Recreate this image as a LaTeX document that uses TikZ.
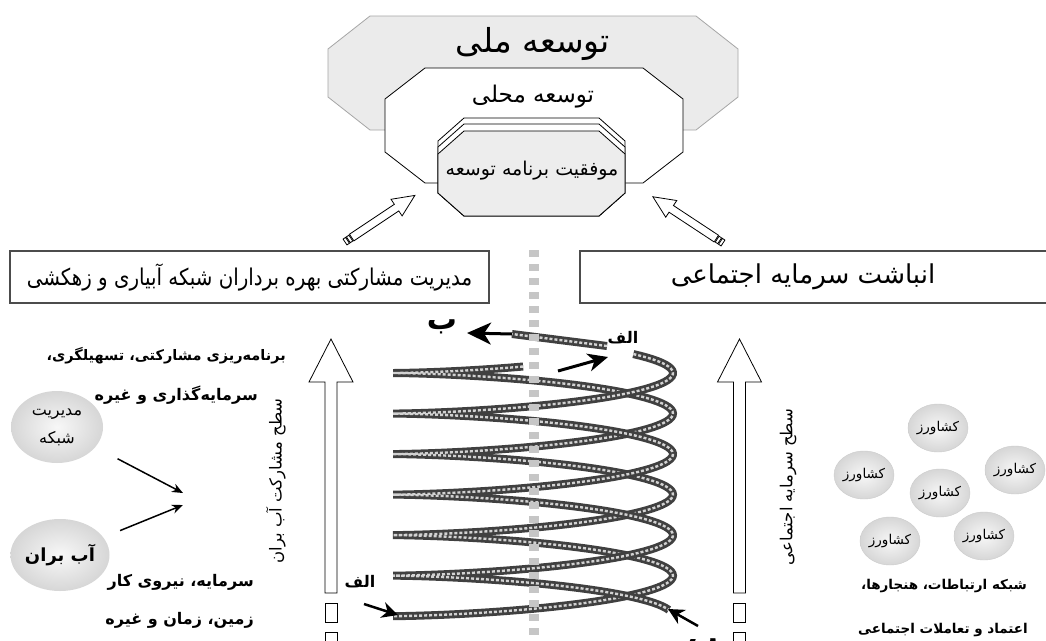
\documentclass[tikz,border=0pt]{standalone}
\usepackage{fontspec}
\newfontfamily\prs[Script=Arabic]{DejaVu Sans}
\TeXXeTstate=1
\usetikzlibrary{shapes.geometric,arrows.meta,backgrounds,positioning}
\newcommand\octbox[7]{\draw[#1] (#2+#6,#3) -- (#4-#6,#3) -- (#4,#3+#7) -- (#4,#5-#7) -- (#4-#6,#5) -- (#2+#6,#5) -- (#2,#5-#7) -- (#2,#3+#7) -- cycle;}
\tikzset{
  octa/.style={line width=0.8pt},
  titlebox/.style={draw=gray!60!black,line width=1.6pt,minimum height=52pt,inner sep=0pt,font=\prs\fontsize{22}{26}\selectfont},
  note/.style={font=\prs\bfseries\fontsize{16}{18}\selectfont,inner sep=0pt},
  farmer/.style={ellipse,draw=gray!40,inner color=gray!6,outer color=gray!32,minimum width=60pt,minimum height=48pt,inner sep=0pt,font=\prs\fontsize{13.5}{15}\selectfont},
  bigball/.style={ellipse,inner color=gray!6,outer color=gray!32,minimum width=92pt,minimum height=72pt,inner sep=0pt,align=center,font=\prs\fontsize{16}{28}\selectfont},
  link/.style={gray!30,line width=4pt},
  chain/.style={line width=8pt,draw=black!75,postaction={draw=gray!35,line width=2.4pt,dash pattern=on 3pt off 2pt}},
  blk/.style={line width=3pt,-{Stealth[length=24pt,width=22pt,inset=7pt]}},
  tip/.style={line width=1.5pt,-{Stealth[length=11pt,width=9pt]}},
  lvl/.style={rotate=90,inner sep=0pt,font=\prs\fontsize{16.5}{18}\selectfont},
  hollow/.style={draw,fill=white,line width=0.8pt}
}
\begin{document}
\begin{tikzpicture}[x=1pt,y=-1pt]
\useasboundingbox (0,0) rectangle (1046,640);
\fill[white] (0,0) rectangle (1046,640);
% development levels
\octbox{octa,fill=gray!16,draw=gray!70}{328}{16}{738}{130}{42}{33}
\octbox{octa,fill=white}{385}{68}{683}{183}{40}{31}
\octbox{octa,fill=white}{438}{118}{625}{216}{26}{23}
\octbox{octa,fill=white}{438}{124}{625}{216}{26}{23}
\octbox{octa,fill=gray!14}{438}{131}{625}{216}{26}{23}
\node[font=\prs\fontsize{33}{36}\selectfont] (natl) at (533,44) {\beginR توسعه ملی\endR};
\node[font=\prs\fontsize{23}{26}\selectfont] (locl) at (533,97) {\beginR توسعه محلی\endR};
\node[font=\prs\fontsize{19}{21}\selectfont] (succ) at (532,171) {\beginR موفقیت برنامه توسعه\endR};
% hollow arrows into the centre
\begin{scope}[shift={(345,242)},rotate=33.7]
  \draw[hollow] (0,-3.5) rectangle (3,3.5);
  \draw[hollow] (4,-3.5) rectangle (7,3.5);
  \draw[hollow] (8,-4) -- (62,-4) -- (62,-10) -- (84,0) -- (62,10) -- (62,4) -- (8,4) -- cycle;
\end{scope}
\begin{scope}[shift={(723,243)},rotate=146.6]
  \draw[hollow] (0,-3.5) rectangle (3,3.5);
  \draw[hollow] (4,-3.5) rectangle (7,3.5);
  \draw[hollow] (8,-4) -- (62,-4) -- (62,-10) -- (84,0) -- (62,10) -- (62,4) -- (8,4) -- cycle;
\end{scope}
% the two headings
\node[titlebox,draw,minimum width=479pt] (pmgt) at (249.5,277) {\scalebox{0.9}[1.05]{\beginR مدیریت مشارکتی بهره برداران شبکه آبیاری و زهکشی\endR}};
\node[titlebox,draw,minimum width=470pt,font=\prs\fontsize{26}{30}\selectfont] (scap) at (815,277) {\hspace*{-24pt}\beginR انباشت سرمایه اجتماعی\endR};
% level arrows
\foreach \ax in {331,739.5}{
  \draw[hollow] (\ax-6,593) -- (\ax-6,382) -- (\ax-22,382) -- (\ax,339) -- (\ax+22,382) -- (\ax+6,382) -- (\ax+6,593) -- cycle;
  \draw[hollow] (\ax-6,603) rectangle (\ax+6,622);
  \draw[hollow] (\ax-6,632) rectangle (\ax+6,652);
}
\node[lvl] (lvlw) at (276,481) {\beginR سطح مشارکت آب بران\endR};
\node[lvl] (lvls) at (788,487) {\beginR سطح سرمایه اجتماعی\endR};
% left side
\node[note,anchor=east,font=\prs\bfseries\fontsize{14.5}{16}\selectfont] (n1) at (286,356) {\beginR برنامه‌ریزی مشارکتی، تسهیلگری،\endR};
\node[note,anchor=east] (n2) at (258,395) {\beginR سرمایه‌گذاری و غیره\endR};
\node[note,anchor=east] (n3) at (254,582) {\beginR سرمایه، نیروی کار\endR};
\node[note,anchor=east] (n4) at (254,620) {\beginR زمین، زمان و غیره\endR};
\node[bigball] (mng) at (57,427) {\beginR مدیریت\endR\\\beginR شبکه\endR};
\node[bigball,font=\prs\bfseries\fontsize{18}{20}\selectfont] (wbr) at (60,555) {\beginR آب بران\endR};
\coordinate (m1) at (183,493);
\coordinate (m2) at (183,505);
\draw[tip,shorten <=25pt] (mng) -- (m1);
\draw[tip,shorten <=18pt] (wbr) -- (m2);
% the chain spring
\draw[chain] plot[domain=-1.5:18.85,samples=260] ({533-140*cos(\x r)},{373+12.9*(\x-sin(\x r))});
\draw[chain] plot[domain=2.37:21.75,samples=260] ({533-140*cos(\x r)},{332.5+12.9*(\x-sin(\x r))});
\coordinate (ctop) at (607,346);
\coordinate (bt1) at (512,334);
\coordinate (bt2) at (467,333);
\draw[chain] (ctop) -- (bt1);
\draw[blk] (bt1) -- (bt2);
\coordinate (al1) at (558,371);
\coordinate (al2) at (608,357);
\draw[blk,-{Stealth[length=20pt,width=18pt,inset=6pt]}] (al1) -- (al2);
\coordinate (bl1) at (364,604);
\coordinate (bl2) at (398,615);
\draw[line width=2.5pt,-{Stealth[length=16pt,width=16pt,inset=5pt]}] (bl1) -- (bl2);
\coordinate (br1) at (698,626);
\coordinate (br2) at (668,609);
\draw[line width=2.5pt,-{Stealth[length=16pt,width=16pt,inset=5pt]}] (br1) -- (br2);
\draw[gray!45,line width=10pt,dash pattern=on 7pt off 7pt] (534,250) -- (534,645);
\node[note,font=\prs\bfseries\fontsize{30}{32}\selectfont] (lbb) at (442,327) {\beginR ب\endR};
\node[note] (lat) at (623,338) {\beginR الف\endR};
\node[note] (lab) at (360,582) {\beginR الف\endR};
\node[note,font=\prs\bfseries\fontsize{30}{32}\selectfont] (lbe) at (703,646) {\beginR ب\endR};
% farmers network
\node[farmer] (fc) at (940,493) {\beginR کشاورز\endR};
\node[farmer] (f1) at (938,428) {\beginR کشاورز\endR};
\node[farmer] (f2) at (864,475) {\beginR کشاورز\endR};
\node[farmer] (f3) at (1015,470) {\beginR کشاورز\endR};
\node[farmer] (f4) at (890,541) {\beginR کشاورز\endR};
\node[farmer] (f5) at (984,536) {\beginR کشاورز\endR};
\begin{scope}[on background layer]
  \foreach \f in {f1,f2,f3,f4,f5}
    \draw[link] (fc) -- (\f);
\end{scope}
\node[note,font=\prs\bfseries\fontsize{13.5}{15}\selectfont] (n5) at (944,586) {\beginR شبکه ارتباطات، هنجارها،\endR};
\node[note,font=\prs\bfseries\fontsize{13.5}{15}\selectfont] (n6) at (943,630) {\beginR اعتماد و تعاملات اجتماعی\endR};
\end{tikzpicture}
\end{document}
